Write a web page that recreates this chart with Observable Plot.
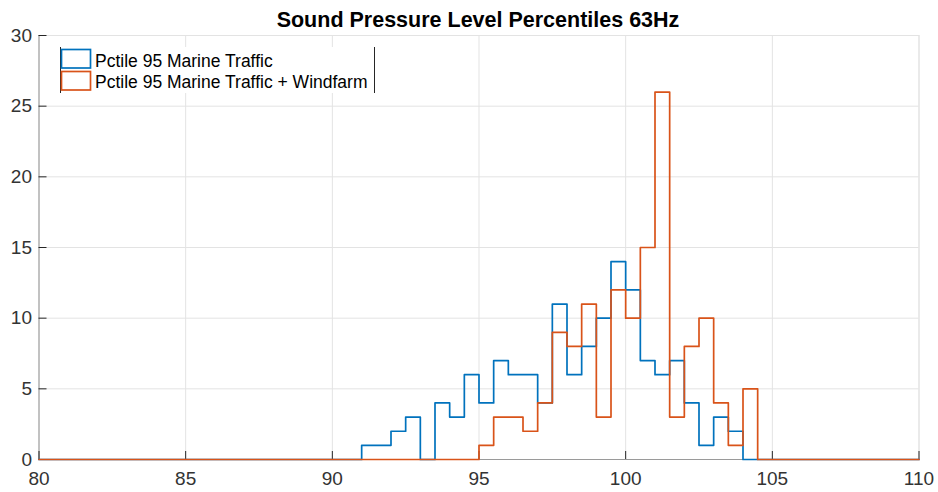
<!DOCTYPE html>
<html>
<head>
<meta charset="utf-8">
<script src="https://cdn.jsdelivr.net/npm/d3@7"></script>
<script src="https://cdn.jsdelivr.net/npm/@observablehq/plot@0.6"></script>
<style>
  html, body { margin: 0; padding: 0; background: #fff; }
  #chart svg { display: block; }
</style>
</head>
<body>
<div id="chart"></div>
<script>
// Histogram bins: 0.5 wide from 80 to 110 (60 bins)
const binStart = 80;
const binWidth = 0.5;
const title = "Sound Pressure Level Percentiles 63Hz";
const seriesNames = ["Pctile 95 Marine Traffic", "Pctile 95 Marine Traffic + Windfarm"];
const seriesColors = ["#0072BD", "#D95319"];
const xTicks = [80, 85, 90, 95, 100, 105, 110];
const yTicks = [0, 5, 10, 15, 20, 25, 30];

// counts per bin (bin i covers [80 + 0.5*i, 80 + 0.5*(i+1)))
const marineTraffic = [
  0,0,0,0,0,0,0,0,0,0,   // 80 - 84.5
  0,0,0,0,0,0,0,0,0,0,   // 85 - 89.5
  0,0,1,1,2,3,0,4,3,6,   // 90 - 94.5
  4,7,6,6,4,11,6,8,10,14, // 95 - 99.5
  12,7,6,7,4,1,3,2,0,0,  // 100 - 104.5
  0,0,0,0,0,0,0,0,0,0    // 105 - 109.5
];
const marineWindfarm = [
  0,0,0,0,0,0,0,0,0,0,
  0,0,0,0,0,0,0,0,0,0,
  0,0,0,0,0,0,0,0,0,0,
  1,3,3,2,4,9,8,11,3,12,
  10,15,26,3,8,10,4,1,5,0,
  0,0,0,0,0,0,0,0,0,0
];

function stairs(counts, name) {
  const pts = counts.map((c, i) => ({x: binStart + i * binWidth, y: c, s: name}));
  pts.push({x: binStart + counts.length * binWidth, y: counts[counts.length - 1], s: name});
  return pts;
}

const W = 938, H = 492;
const mL = 38.5, mR = 19.5, mT = 35, mB = 33;
const FONT = "'Liberation Sans', Arial, sans-serif";

const plot = Plot.plot({
  width: W,
  height: H,
  marginLeft: mL,
  marginRight: mR,
  marginTop: mT,
  marginBottom: mB,
  style: {fontFamily: FONT, fontSize: "19px", color: "#262626", background: "#fff"},
  x: {domain: [80, 110]},
  y: {domain: [0, 30]},
  marks: [
    Plot.gridX(xTicks, {stroke: "#e3e3e3", strokeOpacity: 1}),
    Plot.gridY(yTicks, {stroke: "#e3e3e3", strokeOpacity: 1}),
    Plot.frame({stroke: "#e3e3e3"}),
    Plot.ruleX([80], {stroke: "#9a9a9a"}),
    Plot.ruleY([0], {stroke: "#9a9a9a"}),
    Plot.axisX({ticks: xTicks, tickSize: -8, tickPadding: 20, stroke: "#262626", fill: "#333", label: null, fontSize: 19}),
    Plot.axisY({ticks: yTicks, tickSize: -8, tickPadding: 15, stroke: "#262626", fill: "#333", label: null, fontSize: 19}),
    Plot.line(stairs(marineTraffic, seriesNames[0]), {x: "x", y: "y", curve: "step-after", stroke: seriesColors[0], strokeWidth: 1.7}),
    Plot.line(stairs(marineWindfarm, seriesNames[1]), {x: "x", y: "y", curve: "step-after", stroke: seriesColors[1], strokeWidth: 1.7})
  ]
});

document.getElementById("chart").appendChild(plot);

const svg = d3.select(plot);
// title
svg.append("text")
  .attr("x", 478).attr("y", 26.5)
  .attr("text-anchor", "middle")
  .attr("font-family", FONT)
  .attr("font-weight", "bold")
  .attr("font-size", 21.5)
  .attr("fill", "#000")
  .text(title);

// legend
const lg = svg.append("g");
lg.append("rect").attr("x", 60).attr("y", 47).attr("width", 315).attr("height", 46).attr("fill", "#fff");
lg.append("line").attr("x1", 60.5).attr("x2", 60.5).attr("y1", 47).attr("y2", 93).attr("stroke", "#262626");
lg.append("line").attr("x1", 374.5).attr("x2", 374.5).attr("y1", 47).attr("y2", 93).attr("stroke", "#262626");
const rows = [{y: 49.5, ty: 66.5}, {y: 71.5, ty: 88}];
seriesNames.forEach((n, i) => {
  lg.append("rect").attr("x", 61.5).attr("y", rows[i].y).attr("width", 29).attr("height", 18.5)
    .attr("fill", "none").attr("stroke", seriesColors[i]).attr("stroke-width", 1.7);
  lg.append("text").attr("x", 95).attr("y", rows[i].ty)
    .attr("text-anchor", "start")
    .attr("font-family", FONT)
    .attr("font-size", 17.5)
    .attr("fill", "#000")
    .text(n);
});
</script>
</body>
</html>
